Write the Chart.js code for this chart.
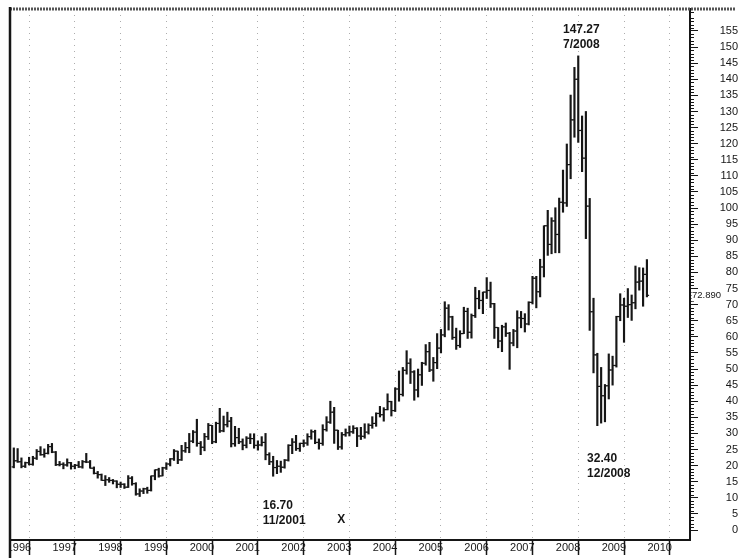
<!DOCTYPE html>
<html>
<head>
<meta charset="utf-8">
<title>Crude oil, monthly bars 1996-2010</title>
<script src="https://cdn.jsdelivr.net/npm/chart.js@4.4.1/dist/chart.umd.min.js"></script>
<style>
  html, body { margin: 0; padding: 0; background: #fff; }
  canvas { display: block; }
</style>
</head>
<body>
<canvas id="oilChart" width="738" height="558"></canvas>
<script>
// Monthly OHLC bars, March 1996 .. January 2010
// month index counts from January 1996 (0 = Jan 1996)
const firstMonth = 2;

const opens = [
  19.6, 21.5, 21.2, 19.8, 20.9, 20.4, 22.3, 24.4, 23.4, 23.8,
  25.9, 24.2, 20.3, 20.4, 20.2, 20.9, 19.8, 20.1, 19.6, 21.2, 21.1, 19.2,
  17.6, 17.2, 15.4, 15.6, 15.4, 15.2, 14.2, 14.2, 13.3, 16.1, 14.4, 11.2,
  12.1, 12.8, 12.3, 16.8, 18.7, 16.8, 19.3, 20.5, 22.1, 24.5, 21.8, 24.6,
  25.6, 27.6, 30.4, 26.9, 25.7, 29.0, 32.5, 27.4, 33.1, 30.8, 32.7, 33.8,
  26.8, 28.7, 27.4, 26.3, 28.5, 28.4, 26.3, 26.4, 27.2, 23.4, 21.2, 19.4,
  19.8, 19.5, 21.7, 26.3, 27.3, 25.3, 26.9, 27.0, 29.0, 30.5, 27.2, 26.9,
  31.2, 33.5, 36.6, 31.0, 25.8, 29.6, 30.2, 30.5, 31.6, 29.2, 29.1, 30.4,
  32.5, 33.1, 36.2, 35.8, 37.4, 39.9, 37.1, 43.8, 42.1, 49.6, 51.8, 49.1,
  43.5, 48.2, 51.8, 55.4, 49.7, 52.0, 56.5, 60.6, 68.9, 66.2, 59.8, 57.3,
  61.0, 67.9, 61.4, 66.6, 71.9, 71.3, 73.9, 74.4, 70.3, 62.9, 58.7, 63.1,
  61.1, 58.1, 61.8, 65.9, 65.7, 64.0, 70.7, 78.2, 74.0, 81.7, 94.5, 88.7,
  96.0, 91.8, 101.8, 101.6, 113.5, 127.4, 140.0, 124.1, 115.5, 100.6, 67.8, 54.4,
  44.6, 41.7, 44.8, 49.7, 51.1, 66.3, 69.9, 69.5, 70.0, 70.6, 77.0, 77.3,
  79.4
];
const highs = [
  25.5, 25.3, 22.4, 21.1, 22.6, 22.9, 25.0, 25.9, 25.2, 26.6,
  26.9, 24.4, 21.3, 20.9, 22.1, 21.0, 20.4, 21.3, 21.6, 23.8, 21.6, 19.6,
  18.2, 17.4, 16.9, 16.3, 15.7, 15.3, 14.9, 14.4, 16.9, 16.6, 14.7, 12.8,
  13.0, 13.3, 16.8, 18.7, 19.2, 19.5, 20.9, 22.2, 25.0, 24.5, 26.3, 27.2,
  30.0, 30.9, 34.4, 27.5, 30.0, 33.1, 32.5, 33.5, 37.8, 35.4, 36.6, 35.0,
  32.2, 31.6, 28.3, 29.0, 29.9, 29.9, 27.7, 29.0, 30.0, 24.0, 22.9, 21.6,
  21.4, 21.9, 26.5, 28.4, 29.4, 27.0, 28.0, 29.9, 31.1, 31.0, 28.3, 32.7,
  35.2, 40.0, 38.1, 31.0, 30.3, 31.4, 32.3, 32.4, 31.8, 31.9, 33.0, 33.0,
  35.2, 36.4, 38.4, 38.0, 42.3, 40.0, 44.2, 49.4, 50.5, 55.7, 53.2, 49.5,
  50.0, 52.1, 57.6, 58.3, 53.6, 61.0, 62.3, 70.9, 70.0, 66.4, 62.7, 61.9,
  69.2, 68.9, 67.1, 75.4, 74.4, 73.9, 78.4, 77.0, 70.4, 62.9, 63.6, 64.3,
  61.4, 62.3, 68.1, 67.9, 67.2, 70.9, 78.8, 78.8, 84.1, 94.5, 99.3, 97.0,
  100.1, 103.1, 111.8, 119.9, 135.1, 143.7, 147.27, 128.6, 130.0, 103.0, 72.0, 54.9,
  50.5, 45.2, 54.7, 54.0, 66.4, 73.4, 72.0, 75.0, 73.0, 82.0, 81.5, 81.4,
  84.0
];
const lows = [
  19.3, 21.0, 19.3, 19.4, 20.2, 20.1, 21.9, 23.2, 22.6, 23.6,
  24.0, 20.0, 19.9, 19.0, 19.8, 18.9, 19.0, 19.4, 19.2, 20.9, 19.2, 17.4,
  16.1, 15.4, 13.8, 14.8, 14.3, 13.1, 13.2, 12.9, 13.2, 13.9, 10.8, 10.4,
  11.3, 11.4, 12.1, 15.6, 16.4, 16.8, 18.8, 19.9, 21.6, 20.6, 21.6, 24.1,
  24.0, 27.1, 26.0, 23.4, 24.6, 28.1, 26.8, 27.1, 30.3, 30.5, 32.0, 25.8,
  26.0, 26.8, 24.9, 25.5, 26.8, 25.4, 24.8, 26.1, 21.8, 20.3, 16.7, 17.5,
  17.9, 19.2, 21.4, 23.7, 24.7, 24.4, 25.9, 26.3, 28.2, 26.8, 25.1, 26.3,
  30.7, 33.1, 26.9, 25.0, 25.1, 29.1, 29.2, 30.0, 25.9, 28.1, 28.5, 29.8,
  31.6, 32.2, 35.1, 33.8, 37.3, 35.4, 36.8, 40.0, 41.6, 48.4, 45.5, 40.3,
  41.3, 44.9, 51.2, 49.2, 46.2, 50.1, 55.0, 60.0, 62.1, 59.2, 56.1, 56.7,
  61.0, 59.5, 59.6, 66.0, 68.7, 67.2, 71.9, 69.1, 59.5, 56.6, 55.4, 60.1,
  49.9, 57.2, 56.6, 62.8, 61.5, 63.7, 70.2, 69.0, 72.4, 78.6, 85.3, 85.8,
  86.1, 86.1, 98.7, 100.5, 109.1, 122.0, 120.4, 111.3, 90.5, 62.0, 48.8, 32.4,
  33.2, 33.6, 40.7, 45.0, 50.6, 65.0, 58.3, 66.0, 65.1, 68.7, 74.5, 69.5,
  72.4
];
const closes = [
  21.5, 21.2, 19.8, 20.9, 20.4, 22.3, 24.4, 23.4, 23.8, 25.9,
  24.2, 20.3, 20.4, 20.2, 20.9, 19.8, 20.1, 19.6, 21.2, 21.1, 19.2, 17.6,
  17.2, 15.4, 15.6, 15.4, 15.2, 14.2, 14.2, 13.3, 16.1, 14.4, 11.2, 12.1,
  12.8, 12.3, 16.8, 18.7, 16.8, 19.3, 20.5, 22.1, 24.5, 21.8, 24.6, 25.6,
  27.6, 30.4, 26.9, 25.7, 29.0, 32.5, 27.4, 33.1, 30.8, 32.7, 33.8, 26.8,
  28.7, 27.4, 26.3, 28.5, 28.4, 26.3, 26.4, 27.2, 23.4, 21.2, 19.4, 19.8,
  19.5, 21.7, 26.3, 27.3, 25.3, 26.9, 27.0, 29.0, 30.5, 27.2, 26.9, 31.2,
  33.5, 36.6, 31.0, 25.8, 29.6, 30.2, 30.5, 31.6, 29.2, 29.1, 30.4, 32.5,
  33.1, 36.2, 35.8, 37.4, 39.9, 37.1, 43.8, 42.1, 49.6, 51.8, 49.1, 43.5,
  48.2, 51.8, 55.4, 49.7, 52.0, 56.5, 60.6, 68.9, 66.2, 59.8, 57.3, 61.0,
  67.9, 61.4, 66.6, 71.9, 71.3, 73.9, 74.4, 70.3, 62.9, 58.7, 63.1, 61.1,
  58.1, 61.8, 65.9, 65.7, 64.0, 70.7, 78.2, 74.0, 81.7, 94.5, 88.7, 96.0,
  91.8, 101.8, 101.6, 113.5, 127.4, 140.0, 124.1, 115.5, 100.6, 67.8, 54.4, 44.6,
  41.7, 44.8, 49.7, 51.1, 66.3, 69.9, 69.5, 70.0, 70.6, 77.0, 77.3, 79.4,
  72.89
];

const yearLabels = ['1996', '1997', '1998', '1999', '2000', '2001', '2002', '2003',
                    '2004', '2005', '2006', '2007', '2008', '2009', '2010'];
const priceTicks = [0, 5, 10, 15, 20, 25, 30, 35, 40, 45, 50, 55, 60, 65, 70, 75, 80,
                    85, 90, 95, 100, 105, 110, 115, 120, 125, 130, 135, 140, 145, 150, 155];
const noteTexts = [['147.27', '7/2008'], ['32.40', '12/2008'], ['16.70', '11/2001'], ['X']];

const INK = '#161616';
Chart.defaults.font.family = "'Liberation Sans', Arial, sans-serif";

// Build points from the arrays
const months = opens.map((_, k) => firstMonth + k);
const ranges = months.map((m, k) => ({ x: m, y: [lows[k], highs[k]] }));
const openMarks = months.map((m, k) => ({ x: m - 0.29, y: opens[k] }));
const closeMarks = months.map((m, k) => ({ x: m + 0.29, y: closes[k] }));

// Frame, minor ticks, last price and the text notes
const chartExtras = {
  id: 'chartExtras',
  afterDraw(chart) {
    const { ctx, chartArea, scales } = chart;
    const xs = scales.x, ys = scales.y;
    ctx.save();

    // minor ticks on the price axis
    ctx.strokeStyle = INK;
    ctx.lineWidth = 1;
    ctx.beginPath();
    for (let v = 0; v <= 161; v++) {
      if (v % 5 === 0) continue;
      const py = Math.round(ys.getPixelForValue(v)) + 0.5;
      ctx.moveTo(chartArea.right, py);
      ctx.lineTo(chartArea.right + 4, py);
    }
    ctx.stroke();

    // hatched top border
    ctx.strokeStyle = '#555';
    ctx.lineWidth = 3;
    ctx.setLineDash([2, 1]);
    ctx.beginPath();
    ctx.moveTo(chartArea.left, chartArea.top);
    ctx.lineTo(chart.width - 2, chartArea.top);
    ctx.stroke();
    ctx.setLineDash([]);

    // nothing shows left of the frame in the year row
    ctx.fillStyle = '#fff';
    ctx.fillRect(0, chartArea.bottom + 1, chartArea.left - 1, chart.height - chartArea.bottom);

    // heavy left frame
    ctx.strokeStyle = INK;
    ctx.lineWidth = 2.5;
    ctx.beginPath();
    ctx.moveTo(chartArea.left, chartArea.top - 2);
    ctx.lineTo(chartArea.left, chart.height);
    ctx.stroke();

    // last close on the price axis
    const last = closes[closes.length - 1];
    const lp = ys.getPixelForValue(last);
    ctx.fillStyle = '#fff';
    ctx.fillRect(chartArea.right + 1.5, lp - 5, 30, 11);
    ctx.fillStyle = INK;
    ctx.font = "9.5px 'Liberation Sans', Arial, sans-serif";
    ctx.textBaseline = 'middle';
    ctx.textAlign = 'left';
    ctx.fillText(last.toFixed(3), chartArea.right + 2, lp + 0.5);

    // notes at the highs and lows
    ctx.font = "bold 12px 'Liberation Sans', Arial, sans-serif";
    const place = (lines, month, price) => {
      const px = xs.getPixelForValue(month);
      const py = ys.getPixelForValue(price);
      lines.forEach((t, n) => ctx.fillText(t, px, py + n * 14.5));
    };
    place(noteTexts[0], 146.0, 155.3);
    place(noteTexts[1], 152.3, 22.0);
    place(noteTexts[2], 67.3, 7.4);
    place(noteTexts[3], 86.8, 3.1);

    ctx.restore();
  }
};

new Chart(document.getElementById('oilChart'), {
  type: 'bar',
  data: {
    datasets: [
      {
        label: 'Range',
        data: ranges,
        backgroundColor: INK,
        borderWidth: 0,
        barThickness: 1.5
      },
      {
        type: 'scatter',
        label: 'Open',
        data: openMarks,
        pointStyle: 'line',
        radius: 1.1,
        borderWidth: 1.2,
        borderColor: INK
      },
      {
        type: 'scatter',
        label: 'Close',
        data: closeMarks,
        pointStyle: 'line',
        radius: 1.1,
        borderWidth: 1.2,
        borderColor: INK
      }
    ]
  },
  options: {
    responsive: false,
    animation: false,
    events: [],
    layout: { padding: { top: 9, left: 10, right: 0, bottom: 0 } },
    plugins: {
      legend: { display: false },
      tooltip: { enabled: false }
    },
    scales: {
      x: {
        type: 'linear',
        offset: false,
        min: 1.0,
        max: 179.3,
        afterBuildTicks: (scale) => {
          scale.ticks = yearLabels.map((_, k) => ({ value: k * 12 }));
        },
        afterFit: (scale) => {
          scale.height = 18;
          scale.paddingLeft = 0;
          scale.paddingRight = 0;
        },
        ticks: {
          autoSkip: false,
          maxRotation: 0,
          align: 'start',
          labelOffset: 0.5,
          padding: -13.5,
          color: INK,
          font: { size: 11 },
          callback: (value, index) => yearLabels[index]
        },
        grid: {
          color: 'rgba(0,0,0,0.32)',
          lineWidth: 1,
          tickLength: 15,
          tickColor: INK,
          tickWidth: 1.5
        },
        border: { display: true, color: INK, width: 2, dash: [1, 5] }
      },
      y: {
        type: 'linear',
        position: 'right',
        min: -3.106,
        max: 161.83,
        afterBuildTicks: (scale) => {
          scale.ticks = priceTicks.map(v => ({ value: v }));
        },
        afterFit: (scale) => {
          scale.width = 48;
          scale.paddingTop = 0;
          scale.paddingBottom = 0;
        },
        ticks: {
          autoSkip: false,
          crossAlign: 'far',
          padding: 15,
          color: INK,
          font: { size: 11 },
          callback: (value) => String(value)
        },
        grid: {
          drawOnChartArea: false,
          tickLength: 8,
          tickColor: INK,
          tickWidth: 1
        },
        border: { display: true, color: INK, width: 2 }
      }
    }
  },
  plugins: [chartExtras]
});
</script>
</body>
</html>
